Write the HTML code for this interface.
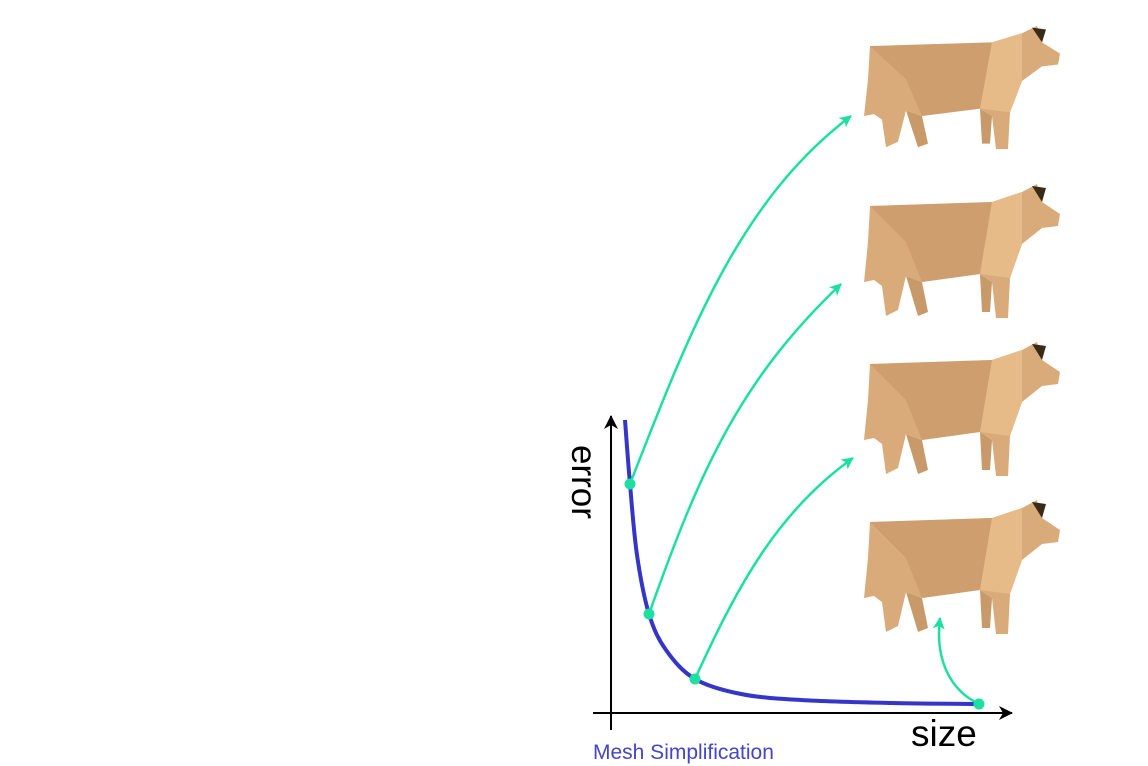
<!DOCTYPE html>
<html><head><meta charset="utf-8"><style>
html,body{margin:0;padding:0;background:#fff;}
svg{display:block;font-family:"Liberation Sans",sans-serif;}
</style></head><body>
<svg width="1148" height="766" viewBox="0 0 1148 766">
<defs>
<marker id="ah" markerWidth="14" markerHeight="14" refX="11" refY="6" orient="auto" markerUnits="userSpaceOnUse"><path d="M0,0 L12,6 L0,12 L3,6 Z" fill="#1de0a0"/></marker>
<marker id="bh" markerWidth="16" markerHeight="16" refX="13" refY="7" orient="auto" markerUnits="userSpaceOnUse"><path d="M0,0 L14,7 L0,14 L4,7 Z" fill="#000"/></marker>
<g id="cow">
<path d="M8,24 L130,20 L160,10 L175,2 L180,20 L198,32 L196,44 L180,46 L160,62 L148,96 L146,136 L134,136 L130,100 L118,92 L60,100 L44,94 L36,128 L24,134 L20,104 L12,98 L2,100 L6,60 Z" fill="#d9ab7a"/>
<path d="M8,24 L130,20 L118,92 L60,100 L44,60 Z" fill="#c49464" opacity="0.55"/>
<path d="M130,20 L160,10 L160,62 L148,96 L118,92 Z" fill="#e6bb88"/>
<path d="M44,94 L60,100 L66,130 L56,134 Z" fill="#c89a6a"/>
<path d="M118,92 L130,100 L128,130 L120,130 Z" fill="#c89a6a"/>
<path d="M170,4 L180,20 L184,6 Z" fill="#3a2a1a"/>
</g>
</defs>
<line x1="611" y1="730" x2="611" y2="416" stroke="#000" stroke-width="2" marker-end="url(#bh)"/>
<line x1="593" y1="713" x2="1012" y2="713" stroke="#000" stroke-width="2" marker-end="url(#bh)"/>
<text x="0" y="0" font-size="35" transform="translate(572,445) rotate(90)">error</text>
<text x="911" y="746" font-size="37">size</text>
<text x="593" y="759" font-size="21" fill="#4444cc">Mesh Simplification</text>
<path id="curve" fill="none" stroke="#3535c8" stroke-width="4"/>
<g id="arrows">
<path d="M630,484 C690,330 740,200 851,116" fill="none" stroke="#1de0a0" stroke-width="2.5" marker-end="url(#ah)"/>
<path d="M649,614 C700,470 740,380 841,284" fill="none" stroke="#1de0a0" stroke-width="2.5" marker-end="url(#ah)"/>
<path d="M695,679 C740,580 780,510 853,458" fill="none" stroke="#1de0a0" stroke-width="2.5" marker-end="url(#ah)"/>
<path d="M979,704 C950,690 935,660 940,618" fill="none" stroke="#1de0a0" stroke-width="2.5" marker-end="url(#ah)"/>
</g>
<g id="dots"></g>
<use href="#cow" transform="translate(862,24) scale(1,0.92)"/>
<use href="#cow" transform="translate(862,182)"/>
<use href="#cow" transform="translate(862,340)"/>
<use href="#cow" transform="translate(862,498)"/>
</svg>
<script>
const sizes=[14,19,26,38,55,84,130,190,280,368];
const errors=[293,229,158,99,63,34,19,13,10,9];
const markedSizes=[19,38,84,368];
const markedErrors=[229,99,34,9];
function xs(s){return 611+s;}
function ys(e){return 713-e;}
const pts=sizes.map((s,i)=>[xs(s),ys(errors[i])]);
let d='M'+pts[0][0]+','+pts[0][1];
for(let i=0;i<pts.length-1;i++){
 const p0=pts[Math.max(0,i-1)],p1=pts[i],p2=pts[i+1],p3=pts[Math.min(pts.length-1,i+2)];
 const c1=[p1[0]+(p2[0]-p0[0])/6,p1[1]+(p2[1]-p0[1])/6];
 const c2=[p2[0]-(p3[0]-p1[0])/6,p2[1]-(p3[1]-p1[1])/6];
 d+=` C${c1[0]},${c1[1]} ${c2[0]},${c2[1]} ${p2[0]},${p2[1]}`;
}
document.getElementById('curve').setAttribute('d',d);
const g=document.getElementById('dots');
markedSizes.forEach((s,i)=>{
 const c=document.createElementNS('http://www.w3.org/2000/svg','circle');
 c.setAttribute('cx',xs(s));c.setAttribute('cy',ys(markedErrors[i]));c.setAttribute('r',5.5);c.setAttribute('fill','#1de0a0');
 
 
 g.appendChild(c);
});
</script>
</body></html>
